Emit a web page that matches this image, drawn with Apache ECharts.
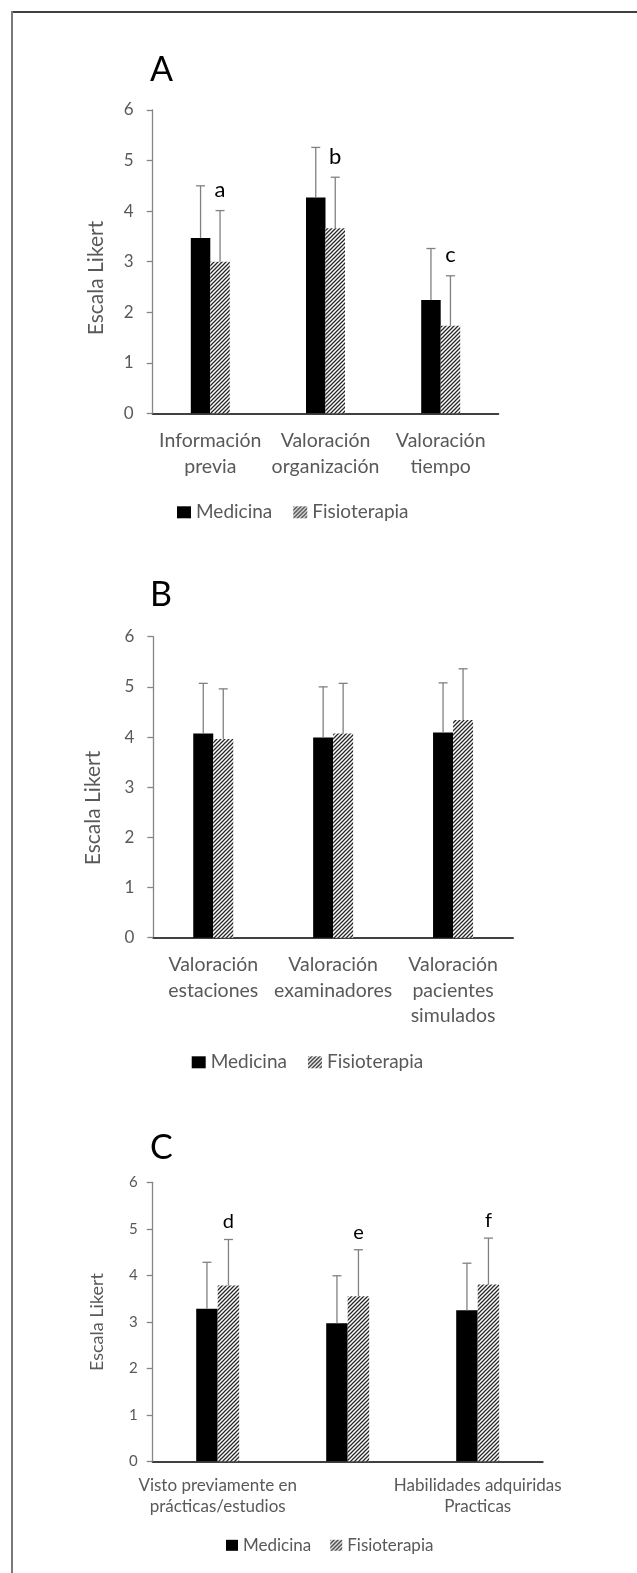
<!DOCTYPE html>
<html>
<head>
<meta charset="utf-8">
<script src="https://cdn.jsdelivr.net/npm/echarts@6/dist/echarts.min.js"></script>
<style>
html,body{margin:0;padding:0;background:#fff;}
#chart{width:637px;height:1573px;}
</style>
</head>
<body>
<div id="chart"></div>
<script>
// ---------------- data ----------------
const seriesNames = ['Medicina', 'Fisioterapia'];
const yMin = 0, yMax = 6, yStep = 1;

const catsA = ['Información\nprevia', 'Valoración\norganización', 'Valoración\ntiempo'];
const medA = [3.47, 4.27, 2.24];
const medSdA = [1.03, 0.99, 1.02];
const fisA = [3.00, 3.66, 1.73];
const fisSdA = [1.01, 1.01, 0.99];
const lettersA = ['a', 'b', 'c'];

const catsB = ['Valoración\nestaciones', 'Valoración\nexaminadores', 'Valoración\npacientes\nsimulados'];
const medB = [4.07, 3.99, 4.09];
const medSdB = [1.00, 1.01, 0.99];
const fisB = [3.96, 4.07, 4.34];
const fisSdB = [1.00, 1.00, 1.02];
const lettersB = ['', '', ''];

const catsC = ['Visto previamente en\nprácticas/estudios', '', 'Habilidades adquiridas\nPracticas'];
const medC = [3.28, 2.97, 3.25];
const medSdC = [1.00, 1.02, 1.01];
const fisC = [3.78, 3.55, 3.80];
const fisSdC = [0.99, 1.00, 1.00];
const lettersC = ['d', 'e', 'f'];

const panelTitles = ['A', 'B', 'C'];
const yName = 'Escala Likert';

// ---------------- layout / style ----------------
const FONT = 'Lato';
const TXT = '#595959';
const panels = [
  { title: panelTitles[0], cats: catsA, med: medA, medSd: medSdA, fis: fisA, fisSd: fisSdA, letters: lettersA,
    grid: { left: 152.7, top: 110, width: 345.6, height: 303.3 }, barW: 19.5, cap: 4.5,
    tickFont: 17, tickMargin: 19, catFont: 19.5, catLH: 25.7, catMargin: 14.8,
    letterFont: 22, letterUp: 20.5,
    titleY: 70.5, nameX: 96, nameY: 278, nameFont: 21,
    legend: { left: 177, cy: 513.3, font: 19, iw: 14, ih: 12, gap: 21 } },
  { title: panelTitles[1], cats: catsB, med: medB, medSd: medSdB, fis: fisB, fisSd: fisSdB, letters: lettersB,
    grid: { left: 153.3, top: 636.7, width: 359.7, height: 301 }, barW: 20, cap: 4.5,
    tickFont: 17, tickMargin: 19, catFont: 19.5, catLH: 25.5, catMargin: 14.5,
    letterFont: 22, letterUp: 20.5,
    titleY: 595.5, nameX: 93.5, nameY: 808, nameFont: 21,
    legend: { left: 191.7, cy: 1063.3, font: 19, iw: 14, ih: 12, gap: 21 } },
  { title: panelTitles[2], cats: catsC, med: medC, medSd: medSdC, fis: fisC, fisSd: fisSdC, letters: lettersC,
    grid: { left: 152.7, top: 1182.3, width: 390, height: 279 }, barW: 21.5, cap: 4.5,
    tickFont: 15, tickMargin: 15, catFont: 17, catLH: 21, catMargin: 13.5,
    letterFont: 20, letterUp: 17.5,
    titleY: 1148, nameX: 97.6, nameY: 1322, nameFont: 18,
    legend: { left: 226, cy: 1546.3, font: 17, iw: 12, ih: 11, gap: 19 } }
];

function makeHatch() {
  const c = document.createElement('canvas');
  c.width = 4; c.height = 4;
  const g = c.getContext('2d');
  g.fillStyle = '#ffffff';
  g.fillRect(0, 0, 4, 4);
  g.strokeStyle = '#262626';
  g.lineWidth = 1.3;
  g.beginPath();
  g.moveTo(0, 4); g.lineTo(4, 0);
  g.moveTo(-1, 1); g.lineTo(1, -1);
  g.moveTo(3, 5); g.lineTo(5, 3);
  g.stroke();
  return c;
}
const hatchFill = { image: makeHatch(), repeat: 'repeat' };

function errRender(offset, capHalf) {
  return function (params, api) {
    const ci = api.value(0);
    const base = api.coord([ci, api.value(1)]);
    const top = api.coord([ci, api.value(2)]);
    const x = base[0] + offset;
    const st = { stroke: '#808080', lineWidth: 1.3 };
    return {
      type: 'group',
      children: [
        { type: 'line', shape: { x1: x, y1: base[1], x2: x, y2: top[1] }, style: st },
        { type: 'line', shape: { x1: x - capHalf, y1: top[1], x2: x + capHalf, y2: top[1] }, style: st }
      ]
    };
  };
}

function letterRender(offset, letters, font, up) {
  return function (params, api) {
    const ci = api.value(0);
    const top = api.coord([ci, api.value(1)]);
    const t = letters[params.dataIndex];
    if (!t) return null;
    return {
      type: 'text',
      x: top[0] + offset,
      y: top[1] - up,
      style: {
        text: t, fill: '#000', font: font + 'px ' + FONT,
        align: 'center', verticalAlign: 'middle',
        textAlign: 'center', textVerticalAlign: 'middle'
      }
    };
  };
}

const grids = [], xAxes = [], yAxes = [], series = [], legends = [], graphics = [];

panels.forEach((p, i) => {
  grids.push(Object.assign({ containLabel: false }, p.grid));
  xAxes.push({
    type: 'category', gridIndex: i, data: p.cats,
    axisLine: { show: true, lineStyle: { color: '#404040', width: 2 } },
    axisTick: { show: false },
    axisLabel: { interval: 0, color: TXT, fontFamily: FONT, fontSize: p.catFont, lineHeight: p.catLH, margin: p.catMargin },
    splitLine: { show: false }
  });
  yAxes.push({
    type: 'value', gridIndex: i, min: yMin, max: yMax, interval: yStep,
    axisLine: { show: true, lineStyle: { color: '#868686', width: 1.3 } },
    axisTick: { show: true, length: 6, lineStyle: { color: '#868686', width: 1.3 } },
    axisLabel: { color: TXT, fontFamily: FONT, fontSize: p.tickFont, margin: p.tickMargin },
    splitLine: { show: false }
  });
  series.push({
    name: seriesNames[0], type: 'bar', xAxisIndex: i, yAxisIndex: i,
    data: p.med, barWidth: p.barW, barGap: '0%',
    itemStyle: { color: '#000000' }, emphasis: { disabled: true }, z: 2
  });
  series.push({
    name: seriesNames[1], type: 'bar', xAxisIndex: i, yAxisIndex: i,
    data: p.fis, barWidth: p.barW, barGap: '0%',
    itemStyle: { color: hatchFill }, emphasis: { disabled: true }, z: 2
  });
  series.push({
    type: 'custom', xAxisIndex: i, yAxisIndex: i, silent: true, z: 3,
    renderItem: errRender(-p.barW / 2, p.cap),
    encode: { x: 0, y: [1, 2] },
    data: p.med.map((v, k) => [k, v, +(v + p.medSd[k]).toFixed(2)])
  });
  series.push({
    type: 'custom', xAxisIndex: i, yAxisIndex: i, silent: true, z: 3,
    renderItem: errRender(p.barW / 2, p.cap),
    encode: { x: 0, y: [1, 2] },
    data: p.fis.map((v, k) => [k, v, +(v + p.fisSd[k]).toFixed(2)])
  });
  series.push({
    type: 'custom', xAxisIndex: i, yAxisIndex: i, silent: true, z: 4,
    renderItem: letterRender(p.barW / 2, p.letters, p.letterFont, p.letterUp),
    encode: { x: 0, y: 1 },
    data: p.fis.map((v, k) => [k, +(v + p.fisSd[k]).toFixed(2)])
  });
  legends.push({
    data: seriesNames, left: p.legend.left, top: p.legend.cy - p.legend.font / 2 - 1,
    padding: 0, itemWidth: p.legend.iw, itemHeight: p.legend.ih, itemGap: p.legend.gap,
    icon: 'rect', orient: 'horizontal',
    textStyle: { color: TXT, fontFamily: FONT, fontSize: p.legend.font }
  });
  graphics.push({
    type: 'text', x: 150, y: p.titleY,
    style: { text: p.title, fill: '#000', font: '34px ' + FONT, textAlign: 'left', textVerticalAlign: 'middle', align: 'left', verticalAlign: 'middle' }
  });
  graphics.push({
    type: 'text', x: p.nameX, y: p.nameY, rotation: Math.PI / 2,
    style: { text: yName, fill: TXT, font: p.nameFont + 'px ' + FONT, textAlign: 'center', textVerticalAlign: 'middle', align: 'center', verticalAlign: 'middle' }
  });
});

// frame lines
graphics.push({ type: 'line', shape: { x1: 11, y1: 12, x2: 637, y2: 12 }, style: { stroke: '#404040', lineWidth: 2 } });
graphics.push({ type: 'line', shape: { x1: 12, y1: 11, x2: 12, y2: 1573 }, style: { stroke: '#7a7a7a', lineWidth: 2 } });

const chart = echarts.init(document.getElementById('chart'), null, { renderer: 'canvas' });
chart.setOption({
  backgroundColor: '#ffffff',
  animation: false,
  grid: grids,
  xAxis: xAxes,
  yAxis: yAxes,
  legend: legends,
  series: series,
  graphic: graphics
});
</script>
</body>
</html>
